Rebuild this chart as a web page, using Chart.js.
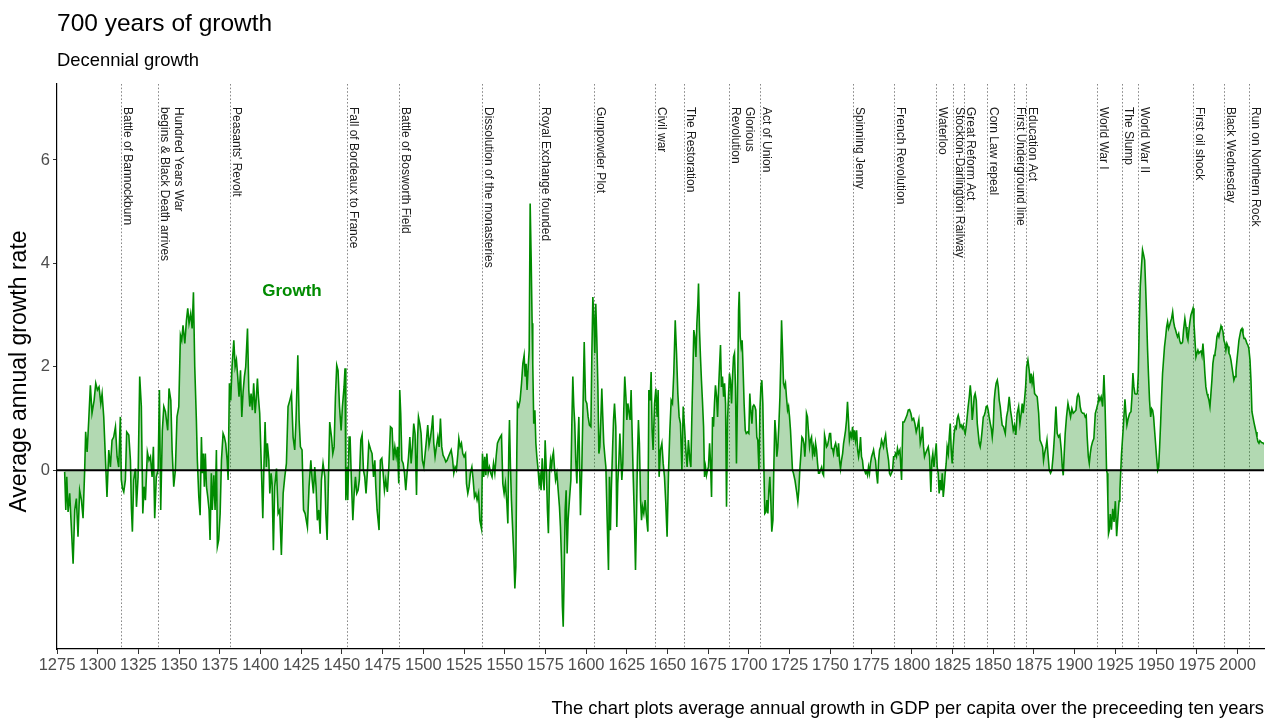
<!DOCTYPE html>
<html>
<head>
<meta charset="utf-8">
<title>700 years of growth</title>
<script src="https://cdn.jsdelivr.net/npm/chart.js@4.4.1/dist/chart.umd.min.js"></script>
<style>
  html, body { margin: 0; padding: 0; background: #fff; }
  #wrap { width: 1274px; height: 721px; }
</style>
</head>
<body>
<div id="wrap"><canvas id="growthChart" width="1274" height="721"></canvas></div>
<script>
// Годы (x) и десятилетний рост (y)
const years = [
  // 1280-1338
  1279.7,1280.4,1281.0,1281.8,1282.8,1283.8,1284.9,1285.9,1286.9,1287.9,1288.9,1290.0,1291.0,1292.0,1292.6,1293.5,
  1294.5,1295.5,1296.5,1297.8,1298.8,1299.8,1300.8,1301.9,1302.7,1303.7,1304.7,1305.7,1306.8,1307.8,1308.8,1309.8,
  1310.9,1311.9,1312.9,1313.9,1314.5,1315.2,1316.0,1317.0,1317.8,1319.1,1320.1,1320.7,1321.3,1322.1,1323.2,1323.8,
  1324.8,1325.8,1326.8,1327.7,1328.5,1329.3,1330.5,1331.5,1332.4,1333.4,1334.2,1335.0,1336.0,1337.1,1337.9,
  // 1338-1404
  1338.7,1339.7,1340.6,1341.6,1342.2,1343.0,1343.8,1344.9,1345.7,1346.7,
  1347.7,1348.7,1349.8,1350.8,1351.6,1352.4,1353.5,1354.5,1355.3,1356.1,
  1357.1,1358.0,1358.8,1359.6,1360.6,1361.2,1362.1,1362.9,1363.7,1364.3,
  1364.9,1365.5,1366.1,1366.8,1367.6,1368.4,1369.0,1369.8,1370.4,1371.3,
  1372.1,1372.9,1373.5,1374.3,1375.2,1376.0,1377.0,1377.8,1378.6,1379.5,
  1380.1,1380.9,1381.7,1382.5,1383.6,1384.4,1385.2,1386.0,1386.8,1387.7,
  1388.5,1389.3,1390.1,1390.9,1392.0,1392.8,1393.4,1394.2,1395.0,1395.8,
  1396.7,1397.3,1398.1,1398.7,1399.5,1400.5,1401.4,1402.0,1402.8,1403.6,
  // 1404-1470
  1404.2,1405.1,1405.7,1406.5,1407.1,1407.9,1408.7,1409.8,1410.8,1411.8,
  1412.8,1413.9,1414.9,1415.9,1416.9,1418.0,1419.0,1420.0,1421.0,1421.8,
  1422.9,1423.7,1424.5,1425.5,1426.4,1427.4,1428.8,1429.8,1430.9,1431.7,
  1432.5,1433.3,1434.1,1434.9,1435.8,1436.6,1437.4,1438.4,1439.5,1440.1,
  1440.9,1441.7,1442.5,1443.6,1444.4,1445.2,1446.0,1446.8,1447.6,1448.5,
  1449.5,1450.3,1451.3,1451.9,1452.4,1453.0,1453.6,1454.4,1455.0,1455.8,
  1456.7,1457.5,1458.3,1459.1,1459.9,1460.7,1461.6,1462.4,1463.2,1464.0,
  1464.8,1465.7,1466.5,1467.7,1468.5,1469.4,1470.2,
  // 1470-1535
  1470.8,1471.6,1472.8,1473.6,1474.5,1475.3,1476.1,1476.9,1477.9,1478.8,
  1479.8,1480.8,1481.6,1482.5,1483.3,1484.1,1484.9,1485.5,1486.1,1486.8,
  1487.6,1488.4,1489.2,1490.0,1490.9,1491.7,1492.5,1493.3,1494.1,1494.9,
  1495.8,1496.4,1497.0,1497.8,1498.6,1499.4,1500.3,1501.1,1501.9,1502.7,
  1503.5,1504.4,1505.2,1505.8,1506.4,1507.2,1508.0,1508.9,1509.7,1510.5,
  1511.3,1512.1,1513.0,1513.8,1514.6,1515.4,1516.2,1517.1,1517.9,1518.7,
  1519.5,1520.3,1521.2,1521.8,1522.6,1523.4,1524.2,1525.0,1525.9,1526.5,
  1527.3,1528.1,1528.9,1529.8,1530.6,1531.4,1532.2,1533.0,1533.9,1534.7,
  // 1535-1596
  1535.7,1536.3,1537.1,1537.7,1538.4,1539.0,1539.8,1540.6,1541.4,1542.2,
  1543.1,1543.9,1544.7,1545.5,1546.3,1547.2,1548.0,1548.8,1549.6,1550.4,
  1551.3,1551.9,1552.5,1552.9,1553.5,1554.1,1554.7,1555.6,1556.2,1556.8,
  1557.4,1557.8,1558.6,1559.4,1560.3,1561.1,1561.9,1562.5,1563.1,1563.7,
  1564.4,1565.0,1565.6,1566.2,1566.8,1567.2,1567.8,1568.5,1569.1,1569.7,
  1570.5,1571.1,1571.7,1572.3,1573.0,1573.6,1574.2,1574.8,1575.6,1576.2,
  1576.8,1577.5,1578.1,1578.7,1579.3,1579.9,1580.5,1581.2,1582.0,1582.8,
  1583.6,1584.2,1584.8,1585.4,1585.9,1586.5,1587.1,1587.7,1588.3,1588.9,
  1589.7,1590.6,1591.2,1591.8,1592.4,1593.0,1593.6,1594.3,1594.9,1595.5,
  // 1596-1664
  1596.5,1597.3,1598.1,1598.8,1599.6,1600.4,1601.2,1602.0,1602.9,1603.5,
  1604.1,1604.7,1605.3,1605.9,1606.5,1607.2,1607.8,1608.4,1609.0,1609.6,
  1610.2,1610.8,1611.5,1612.1,1612.9,1613.7,1614.3,1614.9,1615.5,1616.2,
  1616.8,1617.4,1618.2,1618.8,1619.4,1620.1,1620.7,1621.3,1621.9,1622.5,
  1623.1,1623.7,1624.4,1625.0,1625.6,1626.4,1627.0,1627.6,1628.2,1628.9,
  1629.7,1630.3,1630.9,1631.5,1632.1,1632.7,1633.4,1634.0,1634.6,1635.4,
  1636.2,1637.0,1637.9,1638.5,1639.3,1639.9,1640.5,1641.1,1642.0,1642.8,
  1643.6,1644.2,1644.8,1645.6,1646.5,1647.3,1648.1,1648.9,1649.7,1650.6,
  1651.4,1652.2,1653.0,1653.8,1654.7,1655.5,1656.3,1657.1,1657.9,1658.8,
  1659.6,1660.4,1661.2,1662.0,1662.8,1663.7,
  // 1664-1728
  1664.3,1664.9,1665.5,1666.1,1666.7,1667.4,1668.0,1668.6,1669.0,1669.6,
  1670.2,1670.8,1671.4,1672.1,1672.7,1673.3,1673.9,1674.5,1675.1,1675.8,
  1676.4,1677.0,1677.6,1678.2,1678.8,1679.4,1680.1,1680.7,1681.3,1681.9,
  1682.5,1683.1,1683.7,1684.4,1685.0,1685.6,1686.2,1686.8,1687.4,1688.0,
  1688.6,1689.3,1689.9,1690.5,1691.1,1691.7,1692.3,1692.9,1693.6,1694.0,
  1694.6,1695.2,1695.8,1696.4,1697.0,1697.7,1698.3,1699.1,1699.9,1700.5,
  1701.1,1701.8,1702.4,1703.0,1703.6,1704.2,1704.8,1705.4,1706.1,1706.7,
  1707.3,1707.9,1708.5,1709.1,1709.7,1710.4,1711.0,1711.6,1712.2,1712.8,
  1713.4,1714.0,1714.7,1715.3,1715.9,1716.5,1717.1,1717.7,1718.3,1719.0,
  1719.6,1720.0,1720.6,1721.2,1721.8,1722.4,1723.0,1723.7,1724.3,1724.9,
  1725.5,1726.1,1726.7,1727.3,1728.2,
  // 1729-1793
  1728.8,1729.4,1730.0,1730.6,1731.2,1731.9,1732.5,1733.1,1733.7,1734.3,
  1734.9,1735.3,1735.9,1736.6,1737.2,1737.8,1738.4,1739.0,1739.6,1740.3,
  1740.9,1741.5,1742.1,1742.7,1743.3,1743.9,1744.6,1745.2,1745.8,1746.4,
  1747.0,1747.6,1748.2,1748.9,1749.5,1750.1,1750.7,1751.3,1751.9,1752.5,
  1753.2,1753.8,1754.4,1755.0,1755.6,1756.2,1756.8,1757.5,1758.1,1758.7,
  1759.3,1759.9,1760.5,1761.1,1761.7,1762.4,1763.0,1763.6,1764.2,1764.8,
  1765.4,1766.1,1766.7,1767.3,1767.9,1768.5,1769.1,1769.7,1770.3,1771.0,
  1771.6,1772.2,1772.8,1773.4,1774.0,1774.6,1775.3,1775.9,1776.5,1777.1,
  1777.7,1778.3,1779.0,1779.6,1780.2,1780.8,1781.4,1782.0,1782.6,1783.2,
  1783.9,1784.5,1785.1,1785.7,1786.3,1786.9,1787.5,1788.2,1788.8,1789.4,
  1790.0,1790.6,1791.2,1791.8,1792.7,
  // 1793-1856
  1793.7,1794.5,1795.3,1796.2,1797.0,1797.8,1798.6,1799.4,1800.2,1801.1,
  1801.9,1802.7,1803.5,1804.3,1805.2,1806.0,1806.6,1807.2,1807.8,1808.4,
  1809.3,1810.1,1810.9,1811.7,1812.3,1812.9,1813.6,1814.2,1815.0,1815.6,
  1816.2,1816.8,1817.4,1818.1,1818.7,1819.3,1819.9,1820.5,1821.1,1821.7,
  1822.4,1823.0,1823.6,1824.2,1824.8,1825.4,1826.0,1826.7,1827.3,1827.9,
  1828.5,1829.1,1829.7,1830.3,1831.0,1831.6,1832.2,1832.8,1833.4,1834.0,
  1834.6,1835.3,1835.9,1836.5,1837.1,1837.7,1838.3,1838.9,1839.6,1840.2,
  1840.8,1841.4,1842.0,1842.6,1843.2,1843.9,1844.5,1845.1,1845.7,1846.3,
  1846.9,1847.5,1848.2,1848.8,1849.4,1850.0,1850.6,1851.2,1851.8,1852.5,
  1853.1,1853.7,1854.3,1854.9,1855.5,1856.3,
  // 1857-1921
  1857.4,1858.2,1859.0,1859.8,1860.6,1861.5,1862.3,1863.1,1863.9,1864.7,
  1865.6,1866.4,1867.2,1867.8,1868.4,1869.2,1869.9,1870.5,1871.3,1872.1,
  1872.7,1873.3,1873.9,1874.6,1875.4,1876.2,1877.0,1877.9,1878.7,1879.5,
  1880.3,1880.9,1881.5,1882.4,1883.0,1883.6,1884.4,1885.2,1886.0,1886.9,
  1887.7,1888.5,1889.3,1890.1,1890.9,1891.8,1892.4,1893.0,1893.6,1894.2,
  1895.0,1895.9,1896.7,1897.5,1898.3,1899.1,1900.0,1900.8,1901.6,1902.2,
  1902.8,1903.4,1904.1,1904.9,1905.7,1906.5,1907.1,1907.7,1908.4,1909.0,
  1909.6,1910.2,1911.0,1911.8,1912.7,1913.5,1914.3,1914.9,1915.5,1916.3,
  1917.2,1918.0,1918.6,1919.2,1919.6,1920.0,1920.4,1920.8,1921.3,
  // 1922-1928
  1921.9,1922.6,1923.4,1924.2,1925.0,1925.8,1926.6,1927.3,1927.8,
  // 1929-2016
  1928.8,1929.9,1930.9,1931.5,1932.1,1932.9,1933.8,1934.6,1935.2,1935.8,
  1936.4,1937.0,1937.8,1938.5,1939.1,1939.7,1940.3,1941.1,1941.7,1942.4,
  1943.0,1943.6,1944.2,1944.8,1945.4,1946.0,1946.7,1947.3,1947.9,1948.5,
  1949.1,1949.7,1950.3,1951.0,1951.6,1952.2,1952.8,1953.4,1954.0,1954.6,
  1955.2,1955.9,1956.5,1957.1,1957.7,1958.3,1958.9,1959.5,1960.2,1960.8,
  1961.4,1962.0,1962.6,1963.2,1963.9,1964.5,1965.1,1965.7,1966.3,1966.9,
  1967.7,1968.4,1969.0,1969.6,1970.2,1970.8,1971.4,1972.0,1972.7,1973.3,
  1973.9,1974.5,1975.1,1975.7,1976.3,1977.0,1977.6,1978.2,1978.8,1979.4,
  1980.0,1980.6,1981.3,1981.9,1982.5,1983.1,1983.7,1984.3,1984.9,1985.6,
  1986.2,1986.8,1987.4,1988.0,1988.6,1989.2,1989.9,1990.5,1991.1,1991.7,
  1992.3,1992.9,1993.5,1994.2,1994.8,1995.4,1996.0,1996.6,1997.2,1997.8,
  1998.5,1999.1,1999.7,2000.3,2000.9,2001.5,2002.1,2002.8,2003.4,2004.0,
  2004.6,2005.2,2005.8,2006.4,2007.0,2007.7,2008.3,2008.9,2009.5,2010.1,
  2010.7,2011.4,2012.0,2012.6,2013.2,2013.8,2014.4,2015.0,2015.6,2016.3
];

const growth = [
  // 1280-1338
  -0.03,-0.77,-0.13,-0.81,-0.45,-1.10,-1.81,-0.77,-0.55,-1.29,-0.39,-0.58,-0.93,0,0.74,0.35,
  0.97,1.64,1.10,1.35,1.68,1.55,1.61,1.29,1.48,1.03,0.26,-0.52,0.39,0.06,0.58,0.64,
  0.84,0.26,0.06,1.03,-0.19,-0.35,-0.42,-0.19,0.74,0.68,0.19,-0.74,-1.19,-0.19,0.03,-0.71,
  -0.13,1.81,1.23,-0.84,-0.32,-0.58,0.35,0.19,0.26,-0.13,0.45,-0.93,-0.13,0,1.55,
  // 1338-1404
  -0.77,0.77,1.23,1.13,0.97,0.77,1.58,1.35,0.39,-0.32,
  0,1.03,1.23,2.61,2.51,2.80,2.45,2.90,3.13,2.84,
  3.03,2.74,3.44,2.00,0.97,0.19,-0.52,-0.87,0.64,-0.06,
  0.32,-0.32,0.32,-0.32,-0.52,-0.77,-1.35,-0.06,-0.77,-0.10,
  -0.77,0.39,-1.48,-1.35,-0.84,0.19,0.71,0.64,0.52,0.19,
  -0.19,1.68,1.35,2.00,2.51,2.00,2.13,1.81,1.42,1.93,
  1.03,1.52,1.81,2.00,2.74,1.55,1.23,1.48,1.16,1.68,
  1.10,1.35,1.77,1.42,1.10,0.06,-0.93,-0.06,0.93,0.06,
  // 1404-1470
  0.52,0.19,-0.45,-0.06,-0.26,-1.55,-0.32,0.03,-0.84,-0.77,
  -1.64,-0.45,-0.13,0.13,1.23,1.35,1.48,0.64,0.39,0.97,
  2.22,0.97,0.45,0.39,-0.77,-0.84,-1.10,-0.32,0.19,-0.19,
  -0.45,0.06,-0.32,-0.97,-0.77,-1.23,-0.19,0.13,-0.13,-0.84,
  -1.35,-0.19,0.93,0.64,0.32,0.45,1.42,2.03,1.93,1.23,
  0.77,1.23,1.61,1.97,-0.58,0.06,-0.58,0.64,0.64,-0.19,
  -0.97,-0.45,-0.13,-0.45,-0.39,-0.19,0.58,0.68,0,-0.13,
  -0.45,0,0.52,0.39,0.32,-0.13,0.19,
  // 1470-1535
  -0.32,-0.77,-1.16,0.19,0.23,-0.06,-0.39,-0.19,-0.42,0.06,
  0.84,0.81,0.19,0.45,0.26,0.45,-0.26,1.55,1.10,0.19,
  0.13,-0.06,-0.39,-0.06,0.26,0.64,0.13,0.45,0.90,0.71,
  -0.48,0.58,1.03,0.90,0.71,0.19,0.06,0.32,0.58,0.87,
  0.48,0.64,0.84,1.06,0.52,0.26,0.45,0.64,0.45,1.00,
  0.45,0.29,0.23,0.16,0.19,0.26,0.32,0.39,0.23,-0.06,
  0.06,0,0.32,0.61,0.45,0.52,0.32,0.26,0.32,-0.26,
  -0.45,-0.32,-0.06,0.06,-0.19,-0.52,-0.45,-0.58,-0.45,-0.97,
  // 1535-1596
  -1.13,0.32,-0.13,0.26,-0.10,0.32,-0.06,0.06,-0.06,-0.13,
  0.13,-0.06,0.26,0.52,0.58,0.64,0.68,-0.26,-0.45,-0.26,
  -0.64,-1.03,0.45,0.97,0.06,-0.58,-1.03,-1.68,-2.29,-1.87,
  0.32,1.29,1.23,1.35,1.68,2.06,2.22,1.81,2.06,1.55,
  2.00,2.32,5.16,4.13,2.84,2.06,0.90,1.16,0.52,0.26,
  0,-0.26,-0.13,-0.39,0.23,-0.19,-0.39,0.58,-0.06,-0.77,
  -1.22,-0.06,0.19,0.06,0.26,0.35,0.06,-0.19,-0.06,-0.39,
  -0.71,-1.10,-1.68,-2.64,-3.03,-2.00,-0.77,-0.39,-1.61,-0.97,
  -0.58,-0.19,0.90,1.81,1.23,0.90,0.19,-0.26,0.52,1.03,
  // 1596-1664
  -0.87,0,1.29,2.48,1.35,1.29,1.03,0.87,0.84,2.26,
  3.35,2.97,2.26,3.22,2.58,1.61,0.32,0.45,0.97,1.58,
  1.03,0.52,0.26,0.06,-0.97,-1.93,-0.13,-1.16,-0.32,0.39,
  0.97,1.29,0.84,-1.10,-0.26,0.19,0.71,0.26,-0.19,0.13,
  1.16,1.81,1.42,0.97,1.29,1.10,0.97,1.55,0.77,-0.13,
  -1.03,-1.93,-0.90,0.26,0.97,0.52,-0.58,-0.97,-0.71,-0.84,
  -0.58,-0.90,-1.19,1.55,1.35,1.90,0.77,0.39,1.29,1.58,
  1.03,1.55,-0.13,0.39,0.52,0.13,-0.13,-0.64,-1.29,0,
  0.77,1.35,1.29,1.87,2.90,2.26,1.48,1.03,0.90,0,
  1.23,0.84,0.39,0.06,0.58,0.19,
  // 1664-1728
  0.06,1.03,1.81,2.71,2.58,2.19,2.84,3.22,3.61,2.71,
  2.19,1.74,1.35,0.84,-0.13,0.06,-0.10,0,0.06,0.52,
  0.13,-0.52,1.03,0.84,1.29,1.64,1.42,1.03,1.55,2.00,
  2.42,1.61,1.81,1.42,1.68,1.29,-0.71,0.97,1.42,1.87,
  1.74,1.29,1.81,2.19,2.26,1.61,0.13,1.35,3.09,3.45,
  2.58,2.39,2.51,1.93,1.29,0.77,0.71,0.74,0.71,1.48,
  1.16,0.90,1.23,1.26,1.23,1.16,0.64,0.58,0,1.16,
  1.61,1.74,1.29,0.13,-0.84,-0.81,-0.58,-0.84,-0.39,-0.13,
  -0.58,-1.19,-0.97,0.13,0.97,0.71,0.26,0.45,0.84,1.42,
  2.19,2.90,2.32,1.68,1.61,1.68,1.42,1.16,1.23,1.03,
  0.77,0.39,0,-0.06,-0.19,
  // 1729-1793
  -0.32,-0.45,-0.61,-0.39,0,0.32,0.64,0.61,0.52,0.26,
  0.58,1.10,1.03,0.71,0.45,0.58,0.64,0.32,0.45,0.26,
  0.52,0.39,0.13,-0.06,-0.06,0,0.06,-0.06,-0.10,0.68,
  0.58,0.45,0.48,0.58,0.71,0.71,0.42,0.42,0.32,0.45,
  0.52,0.42,0.26,0.52,0.19,0.03,0.19,0.32,0.52,0.64,
  0.77,0.97,1.32,0.97,0.58,0.71,0.64,0.84,0.58,0.77,
  0.58,0.77,0.39,0.26,0.39,0.64,0.26,0.19,0,0,
  -0.06,-0.03,-0.10,0.06,-0.06,0.13,0.26,0.32,0.39,0.26,
  0.19,-0.06,-0.26,0.19,0.39,0.45,0.58,0.52,0.45,0.58,
  0.68,0.45,0.32,0.19,-0.06,-0.10,-0.06,0,0.26,0.26,
  0.32,0.26,0.42,0.32,0.39,
  // 1793-1856
  -0.19,0.93,0.93,1.00,1.06,1.16,1.17,1.10,0.97,1.00,
  0.90,0.74,0.84,0.97,0.52,0.64,0.84,0.45,0.26,0.32,
  0.39,0.45,0.26,-0.42,0.19,0.32,0.06,0.26,0.52,0.06,
  -0.06,-0.45,-0.19,-0.39,-0.06,-0.52,-0.32,-0.06,0.13,0.45,
  0.32,0.64,0.90,0.39,0.13,0.45,0.71,0.84,0.81,1.00,
  1.06,0.97,0.84,0.87,0.81,0.87,0.77,0.71,0.84,1.03,
  1.23,1.42,1.64,1.42,0.97,1.16,1.42,1.48,1.35,0.90,
  0.71,0.52,0.45,0.58,0.77,1.03,1.06,1.13,1.23,1.24,
  1.16,1.03,0.90,0.81,0.64,0.84,1.35,1.55,1.68,1.74,
  1.61,1.35,1.23,1.03,0.87,0.84,
  // 1857-1921
  0.71,1.03,1.16,1.42,1.16,0.97,0.77,0.87,0.68,1.10,
  1.23,0.90,1.10,1.29,1.10,1.35,1.61,2.00,2.13,1.93,
  1.68,1.87,1.68,1.81,1.48,1.45,1.42,1.10,0.58,0.52,
  0.45,0.19,0.32,0.45,0.58,0.32,0,-0.06,0,0.32,
  0.71,1.23,0.71,0.64,0.68,0.39,0.06,-0.10,0.32,0.71,
  1.03,1.29,1.16,1.03,1.19,1.10,1.13,1.16,1.42,1.47,
  1.42,1.23,1.13,1.10,1.10,1.03,1.06,0.64,0.26,0.13,
  0.32,0.45,0.55,0.61,1.10,1.19,1.29,1.42,1.35,1.42,
  1.23,1.84,1.35,0.58,0,-0.06,-0.58,-1.23,-1.16,
  // 1922-1928
  -0.85,-1.15,-0.75,-1.00,-0.60,-1.28,-0.90,-0.60,-0.39,
  // 1929-2016
  0.32,0.84,1.37,1.10,0.87,1.00,1.10,1.13,1.42,1.88,
  1.61,1.48,1.47,1.48,1.87,2.84,3.55,3.97,4.26,4.16,
  4.06,3.55,2.97,2.32,1.81,1.35,1.03,1.19,1.16,1.03,
  0.77,0.52,0.26,0,0.06,0.45,0.90,1.42,1.87,2.13,
  2.39,2.58,2.77,2.87,2.74,2.80,2.87,2.93,3.06,2.87,
  2.77,2.71,2.64,2.58,2.64,2.51,2.45,2.45,2.48,2.71,
  2.93,2.77,2.58,2.51,2.71,2.87,3.00,3.06,3.13,2.84,
  2.51,2.19,2.26,2.32,2.26,2.29,2.32,2.22,2.45,2.19,
  1.87,1.61,1.48,1.42,1.35,1.23,1.48,1.74,2.06,2.22,
  2.26,2.39,2.58,2.64,2.58,2.68,2.79,2.74,2.68,2.51,
  2.45,2.32,2.45,2.39,2.26,2.22,2.13,2.00,1.87,1.74,
  1.81,1.93,2.13,2.32,2.51,2.61,2.71,2.74,2.64,2.55,
  2.55,2.51,2.45,2.42,2.35,2.13,1.74,1.13,1.03,0.93,
  0.84,0.74,0.64,0.55,0.52,0.57,0.55,0.53,0.53,0.50
];

// Деления осей
const xTicks = [1275,1300,1325,1350,1375,1400,1425,1450,1475,1500,1525,1550,1575,1600,1625,
                1650,1675,1700,1725,1750,1775,1800,1825,1850,1875,1900,1925,1950,1975,2000];
const yTicks = [0, 2, 4, 6];

// События
const eventYears = [1314,1337,1381,1453,1485,1536,1571,1605,1642,1660,1688,1707,1764,
                    1789,1815,1825,1832,1846,1863,1870,1914,1929,1939,1973,1992,2007];
const eventLabels = [
  "Battle of Bannockburn",
  "Hundred Years War\nbegins & Black Death arrives",
  "Peasants' Revolt",
  "Fall of Bordeaux to France",
  "Battle of Bosworth Field",
  "Dissolution of the monasteries",
  "Royal Exchange founded",
  "Gunpowder Plot",
  "Civil war",
  "The Restoration",
  "Glorious\nRevolution",
  "Act of Union",
  "Spinning Jenny",
  "French Revolution",
  "Waterloo",
  "Stockton-Darlington Railway",
  "Great Reform Act",
  "Corn Law repeal",
  "First Underground line",
  "Education Act",
  "World War I",
  "The Slump",
  "World War II",
  "First oil shock",
  "Black Wednesday",
  "Run on Northern Rock"
];

const FONT = '"Liberation Sans", Arial, Helvetica, sans-serif';
const GREEN = '#008b00';

// Линии событий, нулевая линия и подписи
const annotations = {
  id: 'annotations',
  beforeDatasetsDraw(chart) {
    const { ctx, chartArea: a, scales: { x } } = chart;
    ctx.save();
    ctx.strokeStyle = '#7a7a7a';
    ctx.lineWidth = 0.9;
    ctx.setLineDash([1.6, 2]);
    eventYears.forEach(yr => {
      const px = Math.round(x.getPixelForValue(yr)) + 0.5;
      ctx.beginPath();
      ctx.moveTo(px, a.top);
      ctx.lineTo(px, a.bottom);
      ctx.stroke();
    });
    ctx.restore();
  },
  afterDatasetsDraw(chart) {
    const { ctx, chartArea: a, scales: { y } } = chart;
    const py = y.getPixelForValue(0);
    ctx.save();
    ctx.strokeStyle = '#000';
    ctx.lineWidth = 2;
    ctx.beginPath();
    ctx.moveTo(a.left, py);
    ctx.lineTo(a.right, py);
    ctx.stroke();
    ctx.restore();
  },
  afterDraw(chart) {
    const { ctx, chartArea: a, scales: { x } } = chart;
    ctx.save();
    ctx.textBaseline = 'alphabetic';

    // подписи событий, повернуты на 90 градусов
    ctx.font = '12px ' + FONT;
    ctx.fillStyle = '#1a1a1a';
    eventLabels.forEach((label, i) => {
      const lines = label.split('\n');
      const px = x.getPixelForValue(eventYears[i]);
      lines.forEach((line, j) => {
        const off = 3 + (lines.length - 1 - j) * 14;
        ctx.save();
        ctx.translate(px + off, 107);
        ctx.rotate(Math.PI / 2);
        ctx.fillText(line, 0, 0);
        ctx.restore();
      });
    });

    // Growth
    ctx.font = 'bold 17px ' + FONT;
    ctx.fillStyle = GREEN;
    ctx.textAlign = 'center';
    ctx.textBaseline = 'middle';
    ctx.fillText('Growth', 292, 291);

    // заголовки
    ctx.fillStyle = '#000';
    ctx.textAlign = 'left';
    ctx.textBaseline = 'alphabetic';
    ctx.font = '24.5px ' + FONT;
    ctx.fillText('700 years of growth', a.left, 31);
    ctx.font = '18.4px ' + FONT;
    ctx.fillText('Decennial growth', a.left, 66);

    ctx.textAlign = 'right';
    ctx.font = '18.4px ' + FONT;
    ctx.fillText('The chart plots average annual growth in GDP per capita over the preceeding ten years', a.right, 714);

    // подпись оси Y
    ctx.save();
    ctx.font = '23px ' + FONT;
    ctx.textAlign = 'center';
    ctx.translate(26, (a.top + a.bottom) / 2 + 5);
    ctx.rotate(-Math.PI / 2);
    ctx.fillText('Average annual growth rate', 0, 0);
    ctx.restore();

    ctx.restore();
  }
};

function renderChart() {
  const ctx = document.getElementById('growthChart').getContext('2d');
  new Chart(ctx, {
    type: 'line',
    data: {
      datasets: [{
        label: 'Growth',
        data: years.map((yr, i) => ({ x: yr, y: growth[i] })),
        borderColor: GREEN,
        borderWidth: 1.6,
        backgroundColor: 'rgba(0, 128, 0, 0.3)',
        fill: 'origin',
        pointRadius: 0,
        tension: 0
      }]
    },
    options: {
      responsive: false,
      animation: false,
      devicePixelRatio: 1,
      layout: { padding: { top: 84, right: 10, bottom: 0, left: 0 } },
      plugins: {
        legend: { display: false },
        tooltip: { enabled: false }
      },
      scales: {
        x: {
          type: 'linear',
          min: 1275,
          max: 2016.3,
          afterBuildTicks: s => { s.ticks = xTicks.map(v => ({ value: v })); },
          afterFit: s => { s.height = 72; },
          border: { display: true, color: '#000', width: 1.2 },
          grid: { drawOnChartArea: false, drawTicks: true, tickLength: 5, tickColor: '#333' },
          ticks: {
            color: '#4d4d4d',
            font: { family: FONT, size: 16.5 },
            padding: 2,
            autoSkip: false,
            maxRotation: 0,
            minRotation: 0,
            callback: v => String(v)
          }
        },
        y: {
          min: -3.46,
          max: 7.47,
          afterBuildTicks: s => { s.ticks = yTicks.map(v => ({ value: v })); },
          afterFit: s => { s.width = 57; },
          border: { display: true, color: '#000', width: 1.2 },
          grid: { drawOnChartArea: false, drawTicks: true, tickLength: 4, tickColor: '#333' },
          ticks: {
            color: '#4d4d4d',
            font: { family: FONT, size: 16.5 },
            padding: 3,
            callback: v => String(v)
          }
        }
      }
    },
    plugins: [annotations]
  });
}

document.addEventListener('DOMContentLoaded', renderChart);
</script>
</body>
</html>
